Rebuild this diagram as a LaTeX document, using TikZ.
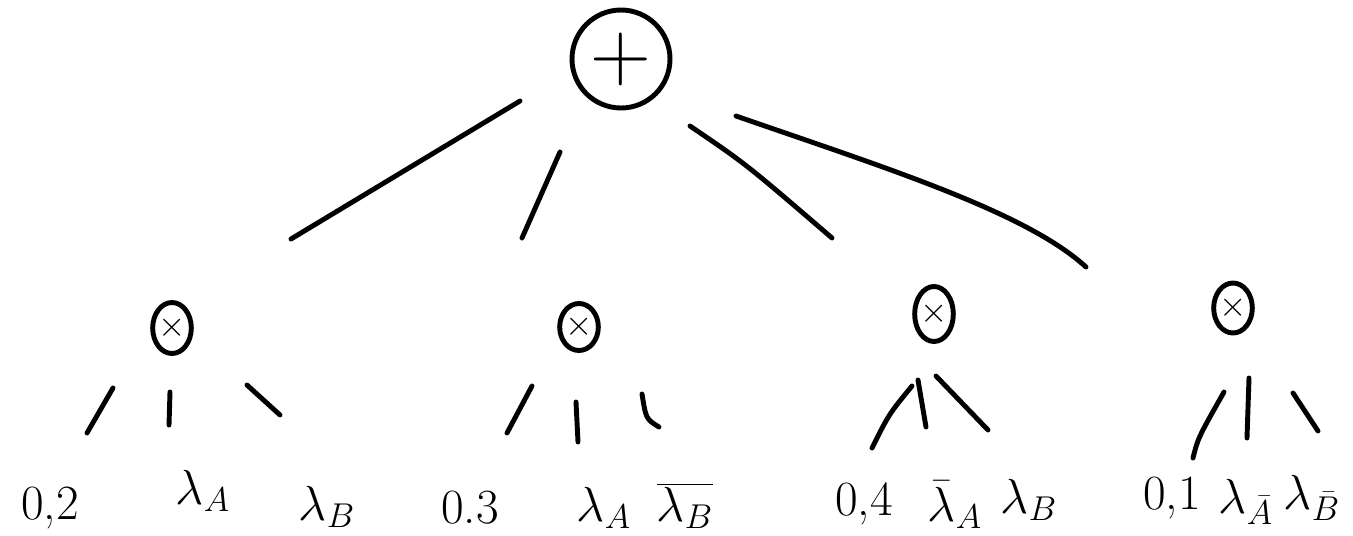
\RequirePackage{fix-cm}
\documentclass[tikz,border=0pt]{standalone}
\usetikzlibrary{calc,shapes.geometric}
\begin{document}
\begin{tikzpicture}[x=0.02cm,y=-0.02cm,
  ink/.style={line width=2.8pt,line cap=round,line join=round},
  sumnode/.style={ink,draw,circle,minimum size=98*0.02cm,inner sep=0pt,font=\fontsize{48}{48}\selectfont},
  prodnode/.style={ink,draw,ellipse,minimum width=38*0.02cm,minimum height=51*0.02cm,inner sep=0pt,font=\fontsize{20}{20}\selectfont},
  leaf/.style={inner sep=0pt,font=\fontsize{28}{34}\selectfont},
  edge/.style={ink}]
\useasboundingbox (0,0) rectangle (1353,535);

% nodes
\node[sumnode] (root) at (621,59) {$+$};
\node[prodnode] (p1) at (172,328) {$\times$};
\node[prodnode,minimum width=34*0.02cm,minimum height=47*0.02cm] (p2) at (579,327) {$\times$};
\node[prodnode,minimum width=36*0.02cm,minimum height=55*0.02cm] (p3) at (934,314) {$\times$};
\node[prodnode,minimum width=37*0.02cm,minimum height=50*0.02cm] (p4) at (1233,308) {$\times$};

\node[leaf] (c11) at (50,508) {0,2};
\node[leaf] (c12) at (203,491) {$\lambda_A$};
\node[leaf] (c13) at (327,507) {$\lambda_B$};
\node[leaf] (c21) at (470,508) {0.3};
\node[leaf] (c22) at (604,508) {$\lambda_A$};
\node[leaf] (c23) at (685,506) {$\overline{\lambda_B}$};
\node[leaf] (c31) at (864,504) {0,4};
\node[leaf] (c32) at (955,505) {$\bar{\lambda}_A$};
\node[leaf] (c33) at (1029,500) {$\lambda_B$};
\node[leaf] (c41) at (1172,498) {0,1};
\node[leaf] (c42) at (1246,502) {$\lambda_{\bar A}$};
\node[leaf] (c43) at (1312,498) {$\lambda_{\bar B}$};

% top connectors
\draw[edge] ($(root)+(-101,42)$) -- ($(p1)+(119,-89)$);
\draw[edge] ($(root)+(-61,93)$) -- ($(p2)+(-57,-89)$);
\draw[edge] ($(root)+(69,67)$) .. controls ($(root)+(125,105)$) .. ($(p3)+(-102,-76)$);
\draw[edge] ($(root)+(115,57)$) .. controls ($(root)+(265,109)$) and ($(p4)+(-207,-96)$) .. ($(p4)+(-147,-41)$);

% lower connectors
\draw[edge] ($(p1)+(-59,60)$) -- ($(c11)+(37,-75)$);
\draw[edge] ($(p1)+(-2,64)$) -- ($(c12)+(-34,-66)$);
\draw[edge] ($(p1)+(75,57)$) -- ($(c13)+(-47,-92)$);

\draw[edge] ($(p2)+(-47,59)$) -- ($(c21)+(37,-75)$);
\draw[edge] ($(p2)+(-3,75)$) -- ($(c22)+(-26,-66)$);
\draw[edge] ($(p2)+(63,67)$) .. controls ($(p2)+(67,92)$) .. ($(c23)+(-26,-79)$);

\draw[edge] ($(p3)+(-22,72)$) .. controls ($(p3)+(-45,100)$) .. ($(c31)+(8,-56)$);
\draw[edge] ($(p3)+(-16,66)$) -- ($(c32)+(-29,-78)$);
\draw[edge] ($(p3)+(2,62)$) -- ($(c33)+(-41,-70)$);

\draw[edge] ($(p4)+(-9,84)$) .. controls ($(p4)+(-35,130)$) .. ($(c41)+(21,-40)$);
\draw[edge] ($(p4)+(16,70)$) -- ($(c42)+(1,-64)$);
\draw[edge] ($(p4)+(60,85)$) -- ($(c43)+(6,-67)$);
\end{tikzpicture}
\end{document}
